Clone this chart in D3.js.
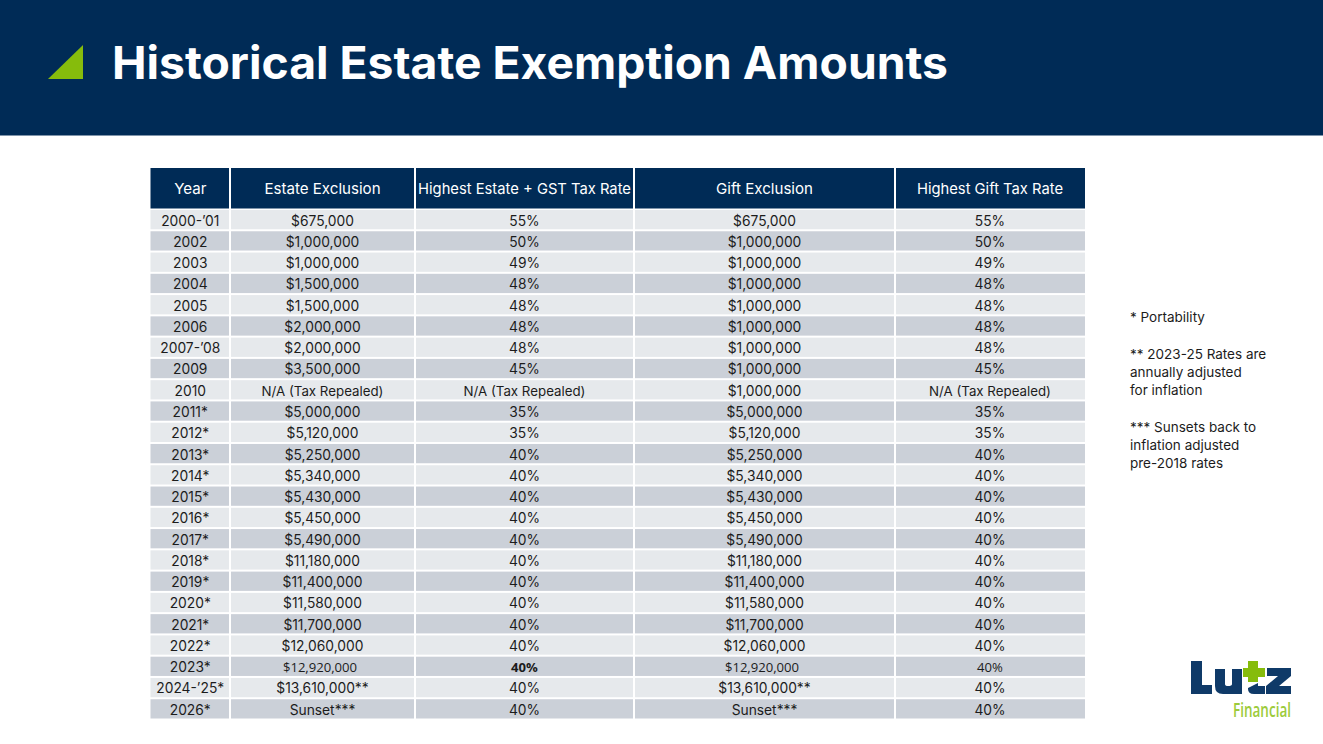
<!DOCTYPE html>
<html>
<head>
<meta charset="utf-8">
<script src="https://cdn.jsdelivr.net/npm/d3@7"></script>
<style>
  html, body { margin: 0; padding: 0; background: #fff; overflow: hidden; }
  text { font-family: Inter, "Noto Sans", sans-serif; }
</style>
</head>
<body>
<div id="chart"></div>
<script>
const title = "Historical Estate Exemption Amounts";
const headers = ["Year", "Estate Exclusion", "Highest Estate + GST Tax Rate", "Gift Exclusion", "Highest Gift Tax Rate"];
const years = ["2000-’01", "2002", "2003", "2004", "2005", "2006", "2007-’08", "2009", "2010", "2011*", "2012*", "2013*", "2014*", "2015*", "2016*", "2017*", "2018*", "2019*", "2020*", "2021*", "2022*", "2023*", "2024-’25*", "2026*"];
const estateExclusion = ["$675,000", "$1,000,000", "$1,000,000", "$1,500,000", "$1,500,000", "$2,000,000", "$2,000,000", "$3,500,000", "N/A (Tax Repealed)", "$5,000,000", "$5,120,000", "$5,250,000", "$5,340,000", "$5,430,000", "$5,450,000", "$5,490,000", "$11,180,000", "$11,400,000", "$11,580,000", "$11,700,000", "$12,060,000", "$12,920,000", "$13,610,000**", "Sunset***"];
const estateRate = ["55%", "50%", "49%", "48%", "48%", "48%", "48%", "45%", "N/A (Tax Repealed)", "35%", "35%", "40%", "40%", "40%", "40%", "40%", "40%", "40%", "40%", "40%", "40%", "40%", "40%", "40%"];
const giftExclusion = ["$675,000", "$1,000,000", "$1,000,000", "$1,000,000", "$1,000,000", "$1,000,000", "$1,000,000", "$1,000,000", "$1,000,000", "$5,000,000", "$5,120,000", "$5,250,000", "$5,340,000", "$5,430,000", "$5,450,000", "$5,490,000", "$11,180,000", "$11,400,000", "$11,580,000", "$11,700,000", "$12,060,000", "$12,920,000", "$13,610,000**", "Sunset***"];
const giftRate = ["55%", "50%", "49%", "48%", "48%", "48%", "48%", "45%", "N/A (Tax Repealed)", "35%", "35%", "40%", "40%", "40%", "40%", "40%", "40%", "40%", "40%", "40%", "40%", "40%", "40%", "40%"];
const notes = ["* Portability", "", "** 2023-25 Rates are", "annually adjusted", "for inflation", "", "*** Sunsets back to", "inflation adjusted", "pre-2018 rates"];

const columns = [years, estateExclusion, estateRate, giftExclusion, giftRate];
const colEdges = [150.5, 230, 415, 634, 895, 1085];
const navy = "#002b56", green = "#86bc0c", ink = "#1c1c1c";
const oddRow = 21; // the 2023 row is set in another font in the original

const svg = d3.select("#chart").append("svg")
  .attr("width", 1323).attr("height", 744)
  .style("display", "block");

// banner
svg.append("rect").attr("width", 1323).attr("height", 135.5).attr("fill", navy);
svg.append("path").attr("d", "M48,79 L83,45 L83,79 Z").attr("fill", green);
svg.append("text").attr("x", 112).attr("y", 79)
  .attr("font-size", 45).attr("font-weight", 700).attr("fill", "#fff")
  .attr("textLength", 836).attr("lengthAdjust", "spacingAndGlyphs")
  .text(title);

const x = i => colEdges[i];
const y = d3.scaleBand().domain(d3.range(years.length)).range([209, 719.5]);

// header
const head = svg.append("g");
headers.forEach((h, i) => {
  head.append("rect")
    .attr("x", x(i) + (i ? 1 : 0)).attr("y", 168)
    .attr("width", x(i + 1) - x(i) - (i ? 1 : 0) - (i < 4 ? 1 : 0)).attr("height", 40.5)
    .attr("fill", navy);
  head.append("text")
    .attr("x", (x(i) + x(i + 1)) / 2).attr("y", 194)
    .attr("text-anchor", "middle").attr("font-size", i === 2 || i === 4 ? 14.75 : 15.1)
    .attr("fill", "#fff").text(h);
});

// body
const rows = svg.append("g").selectAll("g").data(years).join("g");
columns.forEach((col, c) => {
  rows.append("rect")
    .attr("x", x(c) + (c ? 1 : 0))
    .attr("y", (d, r) => y(r) + 1)
    .attr("width", x(c + 1) - x(c) - (c ? 1 : 0) - (c < 4 ? 1 : 0))
    .attr("height", y.bandwidth() - 2)
    .attr("fill", (d, r) => r % 2 ? "#cbd0d8" : "#e6e9ec");
  rows.append("text")
    .attr("x", (d, r) => (x(c) + x(c + 1)) / 2 + (r === oddRow && (c === 1 || c === 3) ? -2.5 : 0))
    .attr("y", (d, r) => y(r) + y.bandwidth() / 2 + 5.9)
    .attr("text-anchor", "middle")
    .attr("fill", ink)
    .attr("font-size", (d, r) => r === oddRow && c > 0 ? 13.1 : col[r].startsWith("N/A") ? 13.3 : 13.8)
    .style("font-family", (d, r) => r === oddRow && c > 0 ? '"Open Sans", sans-serif' : null)
    .attr("font-weight", (d, r) => r === oddRow && c === 2 ? 700 : 400)
    .text((d, r) => col[r]);
});

// side notes
svg.append("g").selectAll("text").data(notes).join("text")
  .attr("x", 1130)
  .attr("y", (d, i) => 322 + i * 18.3)
  .attr("font-size", 13.5).attr("fill", ink)
  .text(d => d);

// logo
const logo = svg.append("g").attr("fill", "#0f3a68");
logo.append("path").attr("d", "M1191,661 H1202 V685 H1212 V694 H1191 Z");
logo.append("path").attr("d", "M1215,669 H1225 V684 Q1225,686 1228,686 Q1232,686 1232,684 V669 H1242 V694 H1223 Q1215,694 1215,686 Z");
logo.append("path").attr("d", "M1248,688 L1258,683 L1258,686 H1265 V694 H1254 Q1248,694 1248,689 Z");
logo.append("path").attr("d", "M1267,668 H1291 V676 L1279,686 H1291 V694 H1266 V686 L1278,676 H1267 Z");
svg.append("path").attr("fill", green)
  .attr("d", "M1248,661 H1258 V668 H1265 V677 H1258 V682 H1248 V677 H1243 V668 H1248 Z");
svg.append("text").attr("x", 1233).attr("y", 717)
  .attr("font-size", 19).attr("font-weight", 600).attr("fill", "#9ccb3b")
  .attr("textLength", 58).attr("lengthAdjust", "spacingAndGlyphs")
  .style("font-family", '"Open Sans", sans-serif')
  .text("Financial");
</script>
</body>
</html>
